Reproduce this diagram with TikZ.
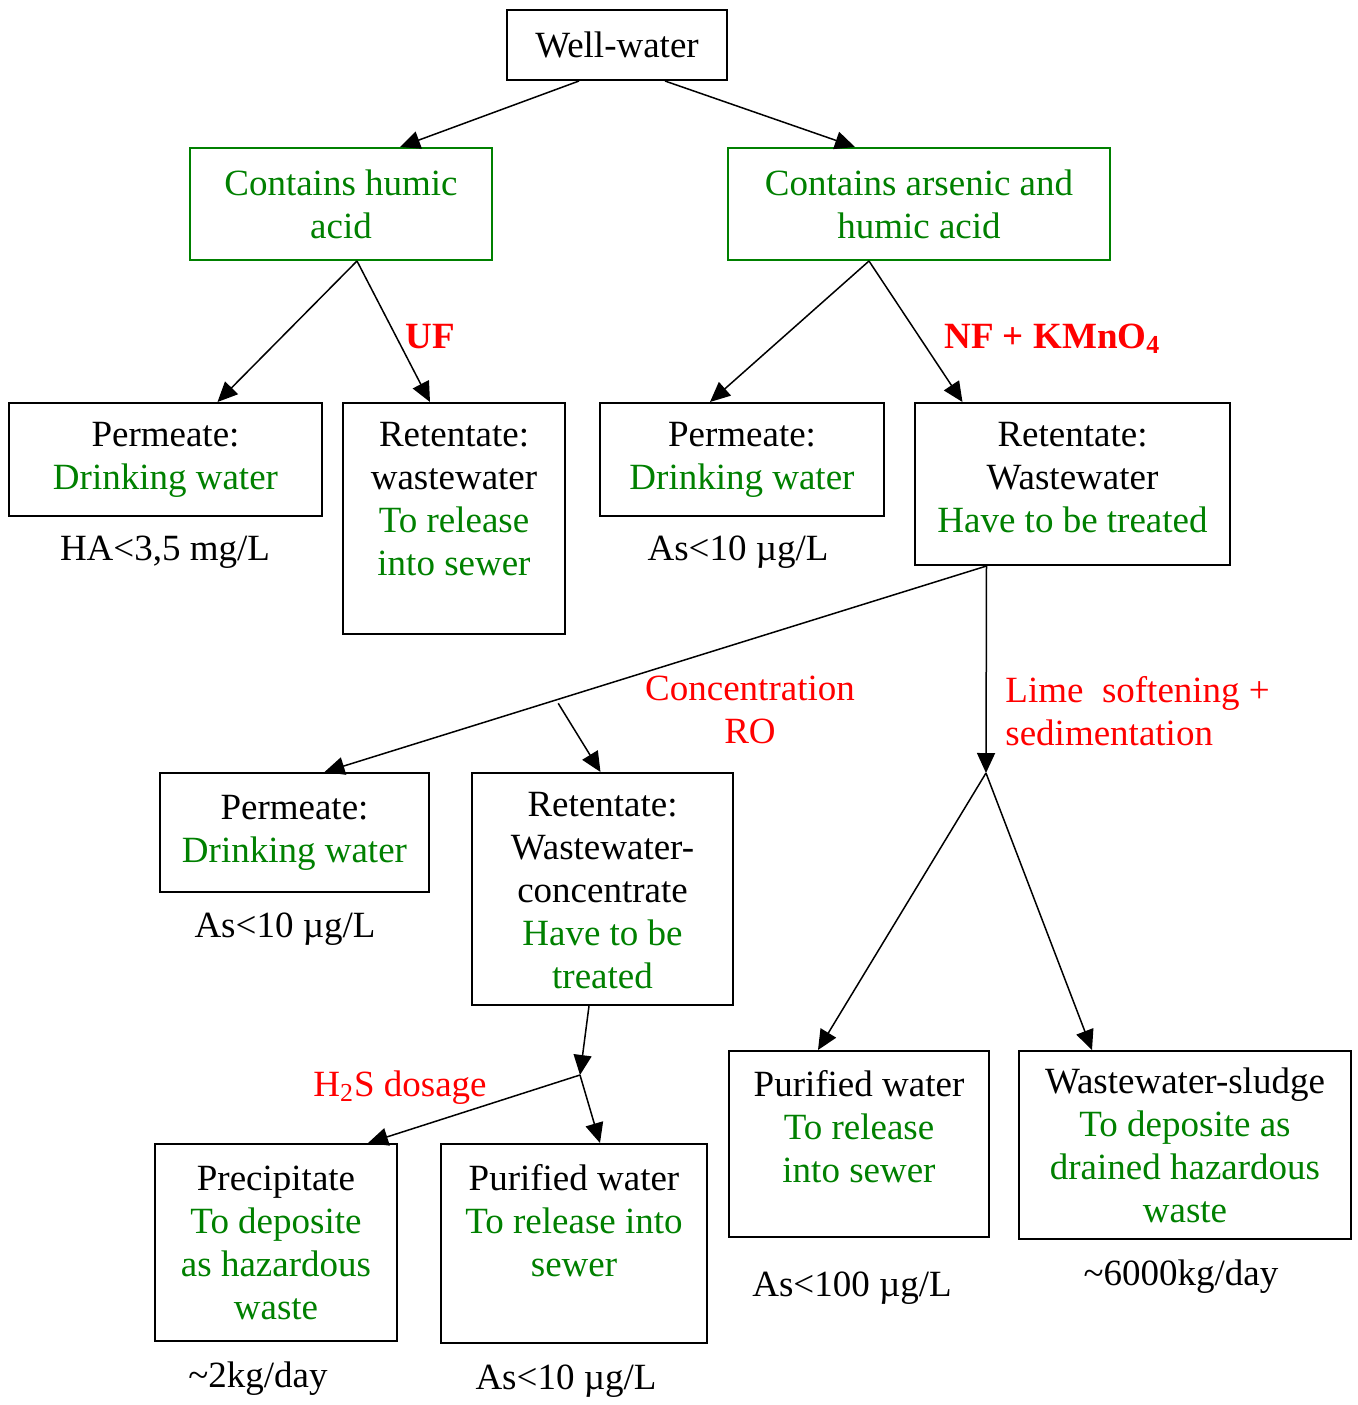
\documentclass[tikz,border=0pt]{standalone}
\usepackage{fontspec}
\setmainfont{Liberation Serif}
\usetikzlibrary{arrows.meta,positioning}
\definecolor{leafgreen}{RGB}{0,128,0}
\newcommand{\gr}[1]{\textcolor{leafgreen}{#1}}

\begin{document}
\begin{tikzpicture}[x=0.5pt,y=-0.5pt,
  font=\fontsize{18.5}{21.5}\selectfont,
  box/.style={draw,line width=1pt,align=center,inner sep=0pt},
  gbox/.style={box,draw=leafgreen,text=leafgreen},
  txt/.style={align=center,inner sep=0pt},
  proc/.style={red,inner sep=0pt},
  arr/.style={line width=0.75pt,-{Triangle[length=10pt,width=9pt]}}]

  \useasboundingbox (0,0) rectangle (1358,1405);

  % boxes
  \node[box,minimum width=110pt,minimum height=35pt] (well) at (617,45) {Well-water};
  \node[gbox,minimum width=151pt,minimum height=56pt] (humic) at (341,204) {Contains humic\\acid};
  \node[gbox,minimum width=191pt,minimum height=56pt] (arsen) at (919,204) {Contains arsenic and\\humic acid};

  \node[box,minimum width=156.5pt,minimum height=56.5pt] (perm1) at (165.5,459.5) {Permeate:\\\gr{Drinking water}};
  \node[box,minimum width=111pt,minimum height=115.5pt] (ret1) at (454,518.5) {};
  \node[txt,below=10pt of ret1.north] (ret1t) {Retentate:\\wastewater\\\gr{To release}\\\gr{into sewer}};
  \node[box,minimum width=142pt,minimum height=56.5pt] (perm2) at (742,459.5) {Permeate:\\\gr{Drinking water}};
  \node[box,minimum width=157.5pt,minimum height=81pt] (ret2) at (1072.5,484) {};
  \node[txt,below=10pt of ret2.north] (ret2t) {Retentate:\\Wastewater\\\gr{Have to be treated}};

  \node[box,minimum width=134.5pt,minimum height=59.5pt] (perm3) at (294.5,832.5) {Permeate:\\\gr{Drinking water}};
  \node[box,minimum width=130.5pt,minimum height=116pt] (ret3) at (602.5,889) {};
  \node[txt,below=10pt of ret3.north] (ret3t) {Retentate:\\Wastewater-\\concentrate\\\gr{Have to be}\\\gr{treated}};

  \node[box,minimum width=121pt,minimum height=98.5pt] (precip) at (276,1242.5) {Precipitate\\\gr{To deposite}\\\gr{as hazardous}\\\gr{waste}};
  \node[box,minimum width=133pt,minimum height=99.5pt] (pur1) at (574,1243.5) {};
  \node[txt,below=10.5pt of pur1.north] (pur1t) {Purified water\\\gr{To release into}\\\gr{sewer}};
  \node[box,minimum width=130pt,minimum height=93pt] (pur2) at (859,1144) {};
  \node[txt,below=10pt of pur2.north] (pur2t) {Purified water\\\gr{To release}\\\gr{into sewer}};
  \node[box,minimum width=166pt,minimum height=94pt] (sludge) at (1185,1145) {Wastewater-sludge\\\gr{To deposite as}\\\gr{drained hazardous}\\\gr{waste}};

  % values under the boxes
  \node[txt,anchor=base] (ha1) at (165,560) {HA<3,5 mg/L};
  \node[txt,anchor=base] (as2) at (738,560) {As<10 µg/L};
  \node[txt,anchor=base] (as3) at (285,937) {As<10 µg/L};
  \node[txt,anchor=base] (kg2) at (258,1387) {\textasciitilde2kg/day};
  \node[txt,anchor=base] (as10) at (566,1389) {As<10 µg/L};
  \node[txt,anchor=base] (as100) at (852,1296) {As<100 µg/L};
  \node[txt,anchor=base] (kg6000) at (1181,1285) {\textasciitilde6000kg/day};

  % process labels
  \node[proc,anchor=base west,font=\fontsize{18.5}{21.5}\selectfont\bfseries] (uf) at (405,348) {UF};
  \node[proc,anchor=base west,font=\fontsize{18.5}{21.5}\selectfont\bfseries] (nf) at (944,348) {NF + KMnO\textsubscript{4}};
  \node[proc,align=center] (ro) at (750,710) {Concentration\\RO};
  \node[proc,align=left,anchor=west] (lime) at (1005,711) {Lime\ \ softening +\\sedimentation};
  \node[proc,anchor=base] (h2s) at (400,1096) {H\textsubscript{2}S dosage};

  \coordinate (split) at (986,773);
  \coordinate (dose) at (580,1075);

  % arrows
  \draw[arr] ([xshift=-19pt]well.south) -- ([xshift=29.5pt]humic.north);
  \draw[arr] ([xshift=24pt]well.south) -- ([xshift=-32pt]arsen.north);
  \draw[arr] ([xshift=8pt]humic.south) -- ([xshift=26pt]perm1.north);
  \draw[arr] ([xshift=8pt]humic.south) -- ([xshift=-12pt]ret1.north);
  \draw[arr] ([xshift=-25pt]arsen.south) -- ([xshift=-16pt]perm2.north);
  \draw[arr] ([xshift=-25pt]arsen.south) -- ([xshift=-55pt]ret2.north);
  \draw[arr] ([xshift=-43pt]ret2.south) -- coordinate[pos=0.647] (rosplit) ([xshift=15pt]perm3.north);
  \draw[arr] ([yshift=-2pt]rosplit) -- ([xshift=-1pt]ret3.north);
  \draw[arr] ([xshift=-43pt]ret2.south) -- (split);
  \draw[arr] (split) -- ([xshift=-20.5pt]pur2.north);
  \draw[arr] (split) -- ([xshift=-46.5pt]sludge.north);
  \draw[arr] ([xshift=-6.75pt]ret3.south) -- (dose);
  \draw[arr] (dose) -- ([xshift=46pt]precip.north);
  \draw[arr] (dose) -- ([xshift=13pt]pur1.north);
\end{tikzpicture}
\end{document}
